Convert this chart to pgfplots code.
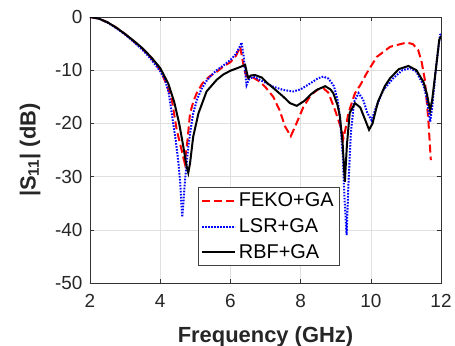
\documentclass[border=0pt]{standalone}
\usepackage{fontspec}
\setmainfont{Liberation Sans}
\usepackage{pgfplots}
\pgfplotsset{compat=1.18}
\begin{document}
\begin{tikzpicture}
\useasboundingbox (-90bp,-63bp) rectangle (365bp,283bp);
\begin{axis}[
 at={(0,0)}, anchor=south west, scale only axis, width=351bp, height=266bp,
 xmin=2, xmax=12, ymin=-50, ymax=0,
 xtick={2,4,...,12}, ytick={-50,-40,...,0},
 grid=major, major grid style={black!12, line width=0.6pt},
 axis line style={black!80, line width=0.8pt},
 tick style={black!80, line width=0.6pt}, tick align=inside, major tick length=4bp,
 ticklabel style={font=\fontsize{19}{22}\selectfont, text=black!85},
 xticklabel style={yshift=-8bp},
 yticklabel style={xshift=-4bp},
 /pgf/number format/assume math mode=true,
 xlabel={\textbf{Frequency (GHz)}}, ylabel={\textbf{|S\textsubscript{11}| (dB)}},
 xlabel style={font=\fontsize{22}{24}\selectfont, text=black!85, at={(axis description cs:0.5,0)}, anchor=center, yshift=-54bp},
 ylabel style={font=\fontsize{22}{24}\selectfont, text=black!85, at={(axis description cs:0,0.5)}, anchor=center, yshift=60bp},
 legend style={at={(0.308,0.064)}, anchor=south west, draw=black!75, line width=0.6pt, fill=white,
   font=\fontsize{20}{22}\selectfont, inner sep=2.5bp, row sep=4.5bp, nodes={inner sep=3bp, text=black}},
 legend cell align=left,
 legend image code/.code={\draw[#1] (0bp,0bp) -- (33bp,0bp);},
]
\addplot[red, line width=2bp, dash pattern=on 8bp off 4bp] coordinates {
(2,0) (2.25,-0.3) (2.5,-1.0) (2.75,-2.0) (3.0,-3.2) (3.25,-4.6) (3.5,-6.0) (3.75,-7.8) (4.0,-9.9)
(4.2,-13) (4.33,-15.5) (4.47,-21.2) (4.61,-25) (4.7,-27.5) (4.78,-23) (4.85,-18.1) (4.95,-15.8)
(5.04,-14.3) (5.2,-12.5) (5.4,-11.2) (5.61,-10.3) (5.8,-9.3) (6.0,-8.5) (6.15,-7.4) (6.28,-5.6)
(6.33,-7.5) (6.4,-10) (6.46,-11.2) (6.55,-11.3) (6.65,-11.4) (6.85,-12.2) (7.0,-13.2) (7.22,-15.0)
(7.4,-17.5) (7.56,-20.6) (7.72,-22.4) (7.85,-20.5) (8.08,-16.9) (8.3,-14.6) (8.5,-13.6) (8.65,-13.4)
(8.79,-14.2) (8.98,-17.5) (9.17,-21.2) (9.22,-22.8) (9.28,-21) (9.36,-18.1) (9.55,-14.3) (9.7,-12.8)
(9.88,-10.6) (10.17,-7.5) (10.55,-5.6) (11.02,-4.8) (11.2,-5.1) (11.35,-6.2) (11.45,-8.5)
(11.54,-11.8) (11.64,-19.4) (11.71,-26.9)
};
\addlegendentry{FEKO+GA}
\addplot[blue, line width=2bp, dash pattern=on 1.6bp off 1.4bp] coordinates {
(2,0) (2.25,-0.3) (2.5,-1.05) (2.75,-2.1) (3.0,-3.3) (3.25,-4.7) (3.5,-6.2) (3.75,-8.0) (4.0,-10.2)
(4.14,-11.8) (4.25,-14.5) (4.37,-20) (4.45,-23.5) (4.52,-27.5) (4.57,-31) (4.61,-35.7) (4.63,-37.6)
(4.67,-34) (4.71,-30.6) (4.80,-24.4) (4.87,-21) (4.94,-18.1) (5.05,-15.5) (5.18,-13.5) (5.32,-12)
(5.45,-11) (5.61,-10.0) (5.8,-9.1) (6.0,-8.1) (6.15,-7.0) (6.25,-5.8) (6.32,-4.8) (6.38,-7.5)
(6.43,-11) (6.46,-12.8) (6.52,-11.8) (6.65,-11.2) (6.9,-12) (7.22,-13.1) (7.5,-13.7) (7.79,-14.0)
(8.0,-13.6) (8.27,-12.5) (8.5,-11.5) (8.65,-11.2) (8.8,-11.6) (8.95,-13) (9.05,-15.5) (9.12,-18.7)
(9.2,-26) (9.25,-34) (9.31,-41) (9.36,-32) (9.43,-22) (9.52,-16) (9.65,-14.3) (9.78,-15.5)
(9.9,-18) (10.02,-19.4) (10.15,-17) (10.35,-13.8) (10.64,-11.5) (10.9,-10) (11.12,-9.6)
(11.3,-10.3) (11.5,-12.8) (11.6,-15.5) (11.69,-19.7) (11.75,-17) (11.85,-10) (11.97,-3.4) (12,-3.2)
};
\addlegendentry{LSR+GA}
\addplot[black, line width=2bp] coordinates {
(2,0) (2.25,-0.3) (2.5,-1.0) (2.75,-2.0) (3.0,-3.2) (3.25,-4.5) (3.5,-5.9) (3.75,-7.6) (4.0,-9.6)
(4.23,-12.5) (4.4,-16) (4.54,-20) (4.66,-24.4) (4.75,-28) (4.80,-29.3) (4.85,-27.5) (4.94,-22.5)
(5.09,-18.1) (5.32,-14) (5.61,-11.8) (5.8,-10.8) (6.0,-10.1) (6.2,-9.6) (6.35,-9.2) (6.42,-9.0)
(6.47,-10.5) (6.51,-11.5) (6.58,-11.0) (6.7,-10.9) (6.9,-11.4) (7.03,-12.3) (7.25,-13.5) (7.51,-15.0)
(7.7,-16.2) (7.89,-16.7) (8.1,-15.8) (8.3,-14.5) (8.46,-13.7) (8.7,-13.0) (8.85,-13.6) (8.93,-14.3)
(9.05,-16.5) (9.12,-18.7) (9.2,-24) (9.26,-31.0) (9.32,-24) (9.4,-18) (9.55,-16.2) (9.7,-17)
(9.85,-19.5) (9.95,-21.2) (10.05,-20) (10.2,-16) (10.4,-13) (10.55,-11.5) (10.8,-9.8) (11.07,-9.2)
(11.3,-10) (11.5,-12.2) (11.6,-14.5) (11.69,-17.6) (11.75,-15.5) (11.85,-10) (11.95,-4.3) (12,-3.6)
};
\addlegendentry{RBF+GA}
\end{axis}
\end{tikzpicture}
\end{document}
